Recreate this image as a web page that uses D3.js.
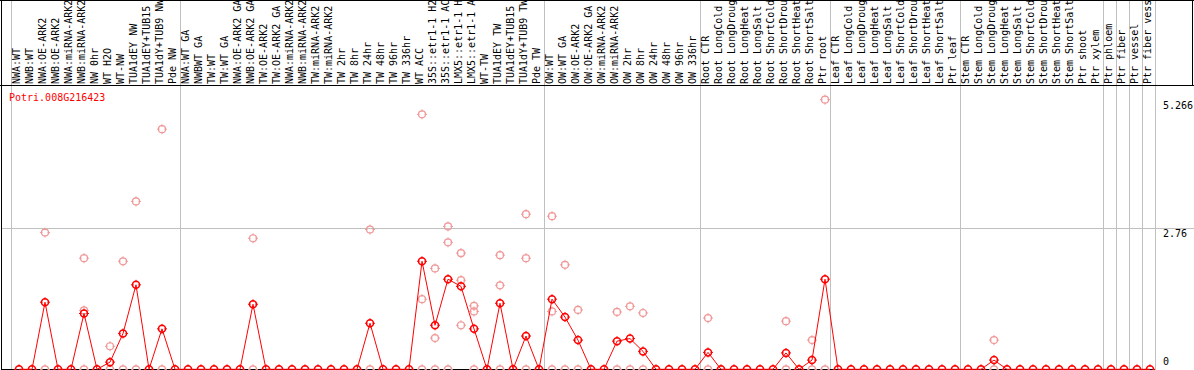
<!DOCTYPE html>
<html>
<head>
<meta charset="utf-8">
<script src="https://cdn.jsdelivr.net/npm/d3@7"></script>
<style>
  body { margin: 0; background: #fff; }
  svg { display: block; }
  text { font-family: "DejaVu Sans Mono", monospace; font-size: 10px; }
</style>
</head>
<body>
<div id="chart"></div>
<script>
// sample groups, in drawing order
const groupNW = ["NWA:WT", "NWB:WT", "NWA:OE-ARK2", "NWB:OE-ARK2", "NWA:miRNA-ARK2", "NWB:miRNA-ARK2",
  "NW 0hr", "WT H2O", "WT-NW", "TUA1dEY NW", "TUA1dEY+TUB15 NW", "TUA1dY+TUB9 NW", "Pde NW"];
const groupTW = ["NWA:WT GA", "NWBWT GA", "TW:WT", "TW:WT GA", "NWA:OE-ARK2 GA", "NWB:OE-ARK2 GA",
  "TW:OE-ARK2", "TW:OE-ARK2 GA", "NWA:miRNA-ARK2 GA", "NWB:miRNA-ARK2 GA", "TW:miRNA-ARK2", "TW:miRNA-ARK2 GA",
  "TW 2hr", "TW 8hr", "TW 24hr", "TW 48hr", "TW 96hr", "TW 336hr", "WT ACC",
  "35S::etr1-1 H2O", "35S::etr1-1 ACC", "LMX5::etr1-1 H2O", "LMX5::etr1-1 ACC",
  "WT-TW", "TUA1dEY TW", "TUA1dEY+TUB15 TW", "TUA1dY+TUB9 TW", "Pde TW"];
const groupOW = ["OW:WT", "OW:WT GA", "OW:OE-ARK2", "OW:OE-ARK2 GA", "OW:miRNA-ARK2", "OW:miRNA-ARK2 GA",
  "OW 2hr", "OW 8hr", "OW 24hr", "OW 48hr", "OW 96hr", "OW 336hr"];
const groupRoot = ["Root CTR", "Root LongCold", "Root LongDrought", "Root LongHeat", "Root LongSalt",
  "Root ShortCold", "Root ShortDrought", "Root ShortHeat", "Root ShortSalt", "Ptr root"];
const groupLeaf = ["Leaf CTR", "Leaf LongCold", "Leaf LongDrought", "Leaf LongHeat", "Leaf LongSalt",
  "Leaf ShortCold", "Leaf ShortDrought", "Leaf ShortHeat", "Leaf ShortSalt", "Ptr leaf"];
const groupStem = ["Stem CTR", "Stem LongCold", "Stem LongDrought", "Stem LongHeat", "Stem LongSalt",
  "Stem ShortCold", "Stem ShortDrought", "Stem ShortHeat", "Stem ShortSalt", "Ptr shoot", "Ptr xylem"];
const groupPhloem = ["Ptr phloem"];
const groupFiber = ["Ptr fiber"];
const groupVessel = ["Ptr vessel"];
const groupFiberVessel = ["Ptr fiber vessel"];

// mean expression per sample, same order as the groups
const meanNW = [0, 0, 1.31, 0, 0, 1.09, 0, 0.14, 0.70, 1.65, 0, 0.79, 0];
const meanTW = [0, 0, 0, 0, 0, 1.27, 0, 0, 0, 0, 0, 0, 0, 0, 0.90, 0, 0, 0, 2.11, 0.86, 1.76, 1.62, 0.79, 0, 1.29, 0, 0.65, 0];
const meanOW = [1.37, 1.02, 0.57, 0, 0, 0.55, 0.60, 0.35, 0, 0, 0, 0];
const meanRoot = [0.33, 0, 0, 0, 0, 0, 0.32, 0, 0.18, 1.76];
const meanLeaf = [0, 0, 0, 0, 0, 0, 0, 0, 0, 0];
const meanStem = [0, 0, 0.18, 0, 0, 0, 0, 0, 0, 0, 0];
const meanSingles = [0, 0, 0, 0];

// individual replicates (only samples with expression)
const replicates = {
  "NWA:OE-ARK2": [2.67, 0],
  "NWB:miRNA-ARK2": [2.17, 1.15, 0],
  "WT H2O": [0.45, 0],
  "WT-NW": [2.11, 0],
  "TUA1dEY NW": [3.28, 0],
  "TUA1dY+TUB9 NW": [4.69, 0],
  "NWB:OE-ARK2 GA": [2.56, 0],
  "TW 24hr": [2.73, 0],
  "WT ACC": [4.98, 1.37, 0],
  "35S::etr1-1 H2O": [1.97, 0.61, 0],
  "35S::etr1-1 ACC": [2.79, 2.48, 0],
  "LMX5::etr1-1 H2O": [2.27, 1.74, 0.86],
  "LMX5::etr1-1 ACC": [1.24, 1.13, 0],
  "TUA1dEY TW": [2.23, 1.64, 0],
  "TUA1dY+TUB9 TW": [3.03, 2.17, 0],
  "OW:WT": [2.99, 1.13, 0],
  "OW:WT GA": [2.04, 0],
  "OW:OE-ARK2": [1.16, 0],
  "OW:miRNA-ARK2 GA": [1.12, 0],
  "OW 2hr": [1.23, 0],
  "OW 8hr": [1.10, 0],
  "Root CTR": [1.00, 0],
  "Root ShortDrought": [0.94, 0],
  "Root ShortSalt": [0.57, 0],
  "Ptr root": [5.266, 0],
  "Stem LongDrought": [0.57, 0]
};

const yTicks = [0, 2.76, 5.266];
const geneName = "Potri.008G216423";

const groups = [groupNW, groupTW, groupOW, groupRoot, groupLeaf, groupStem, groupPhloem, groupFiber, groupVessel, groupFiberVessel];
const samples = groups.flat();
const means = [].concat(meanNW, meanTW, meanOW, meanRoot, meanLeaf, meanStem, meanSingles);

const width = 1194, height = 370;
const labelBottom = 86;
const red = "#ff0000", pale = "#f09898", grid = "#c0c0c0";

const svg = d3.select("#chart").append("svg")
    .attr("width", width)
    .attr("height", height);

const x = d3.scaleBand()
    .domain(d3.range(samples.length))
    .range([11, 1155]);

const px = i => x(i) + x.bandwidth() / 2 + 1.5;

const y = d3.scaleLinear()
    .domain([0, d3.max(yTicks)])
    .range([369.3, 99.7]);

// group separators
const bounds = [0];
groups.forEach(g => bounds.push(bounds[bounds.length - 1] + g.length));
svg.append("g").selectAll("line")
    .data(bounds)
    .join("line")
    .attr("x1", d => d === samples.length ? x(d - 1) + x.bandwidth() + 0.5 : x(d) + 0.5)
    .attr("x2", d => d === samples.length ? x(d - 1) + x.bandwidth() + 0.5 : x(d) + 0.5)
    .attr("y1", 0)
    .attr("y2", height)
    .attr("stroke", grid);

// horizontal grid line
svg.append("line")
    .attr("x1", 1).attr("x2", width)
    .attr("y1", Math.round(y(2.76)) + 0.5).attr("y2", Math.round(y(2.76)) + 0.5)
    .attr("stroke", grid);

// frame
svg.append("line")
    .attr("x1", 0).attr("x2", width)
    .attr("y1", labelBottom - 0.5).attr("y2", labelBottom - 0.5)
    .attr("stroke", "#000");
svg.append("line")
    .attr("x1", 0).attr("x2", width)
    .attr("y1", 0.5).attr("y2", 0.5)
    .attr("stroke", "#000");
svg.append("line")
    .attr("x1", 1.5).attr("x2", 1.5)
    .attr("y1", 0).attr("y2", height)
    .attr("stroke", "#000");
svg.append("line")
    .attr("x1", width - 1.5).attr("x2", width - 1.5)
    .attr("y1", 0).attr("y2", labelBottom)
    .attr("stroke", "#000");
svg.append("line")
    .attr("x1", 1).attr("x2", 1155)
    .attr("y1", 369.5).attr("y2", 369.5)
    .attr("stroke", "#000");

// sample labels (rotated)
svg.append("g").selectAll("text")
    .data(samples)
    .join("text")
    .attr("transform", (d, i) => `translate(${x(i) + x.bandwidth() / 2 + 2.5},${labelBottom - 2}) rotate(-90)`)
    .attr("fill", "#000")
    .text(d => d);

// y axis labels
svg.append("g").selectAll("text")
    .data(yTicks)
    .join("text")
    .attr("x", 1163)
    .attr("y", d => Math.min(y(d) + 9, 365))
    .attr("fill", "#000")
    .text(d => d);

// gene name
svg.append("text")
    .attr("x", 9)
    .attr("y", 101)
    .attr("fill", red)
    .text(geneName);

function marker(g, color, sw) {
  const r = 3.5;
  g.append("circle")
      .attr("r", r)
      .attr("fill", "none")
      .attr("stroke", color)
      .attr("stroke-width", sw);
  g.append("path")
      .attr("d", `M0,${-r - 1.5}V${-r + 1}M0,${r - 1}V${r + 1.5}M${-r - 1.5},0H${-r + 1}M${r - 1},0H${r + 1.5}`)
      .attr("stroke", color)
      .attr("stroke-width", 1);
}

// replicate points
const repPoints = [];
samples.forEach((s, i) => {
  (replicates[s] || []).forEach(v => repPoints.push({ i: i, v: v }));
});
svg.append("g").selectAll("g")
    .data(repPoints)
    .join("g")
    .attr("transform", d => `translate(${px(d.i)},${y(d.v)})`)
    .each(function () { marker(d3.select(this), pale, 1.2); });

// mean line
svg.append("path")
    .datum(means)
    .attr("fill", "none")
    .attr("stroke", red)
    .attr("stroke-width", 1)
    .attr("d", d3.line()
        .x((d, i) => px(i))
        .y(d => y(d)));

// mean points
svg.append("g").selectAll("g")
    .data(means)
    .join("g")
    .attr("transform", (d, i) => `translate(${px(i)},${y(d)})`)
    .each(function () { marker(d3.select(this), red, 1.5); });
</script>
</body>
</html>
